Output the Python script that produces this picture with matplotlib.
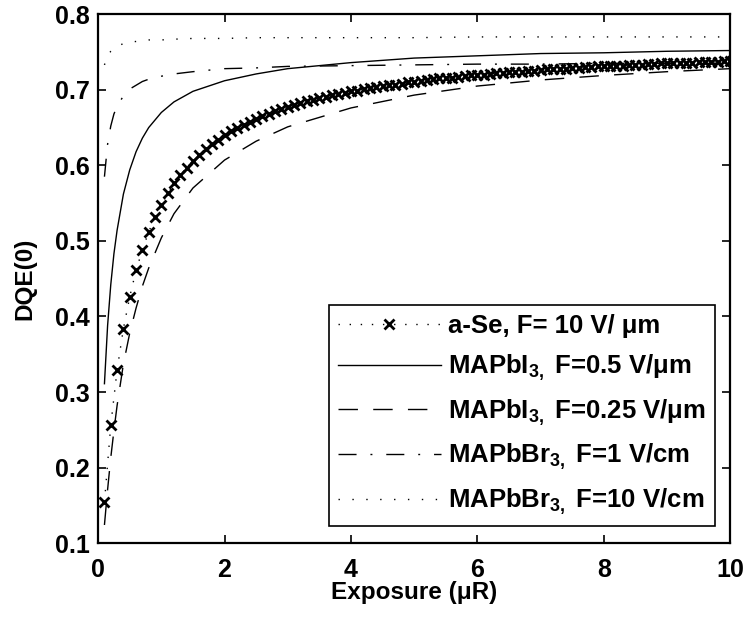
import numpy as np
import matplotlib
matplotlib.use("Agg")
import matplotlib.pyplot as plt

plt.rcParams["font.family"] = ["Liberation Sans", "DejaVu Sans"]
plt.rcParams["font.weight"] = "bold"
plt.rcParams["mathtext.fontset"] = "custom"
plt.rcParams["mathtext.rm"] = "Liberation Sans:bold"
plt.rcParams["mathtext.it"] = "Liberation Sans:bold"
plt.rcParams["mathtext.bf"] = "Liberation Sans:bold"

# a-Se curve, sampled every 0.1 uR (one marker per sample)
exposure_ase = np.linspace(0.1, 10.0, 100)
dqe_ase = [
    0.154, 0.256, 0.329, 0.384, 0.426, 0.461, 0.488, 0.512, 0.531, 0.548,
    0.563, 0.576, 0.587, 0.597, 0.606, 0.614, 0.621, 0.628, 0.634, 0.640,
    0.645, 0.649, 0.654, 0.658, 0.662, 0.665, 0.668, 0.672, 0.674, 0.677,
    0.680, 0.682, 0.685, 0.687, 0.689, 0.691, 0.693, 0.694, 0.696, 0.698,
    0.699, 0.701, 0.702, 0.704, 0.705, 0.706, 0.707, 0.708, 0.710, 0.711,
    0.712, 0.713, 0.714, 0.715, 0.715, 0.716, 0.717, 0.718, 0.719, 0.720,
    0.720, 0.721, 0.722, 0.722, 0.723, 0.724, 0.724, 0.725, 0.725, 0.726,
    0.727, 0.727, 0.728, 0.728, 0.729, 0.729, 0.730, 0.730, 0.731, 0.731,
    0.731, 0.732, 0.732, 0.733, 0.733, 0.733, 0.734, 0.734, 0.735, 0.735,
    0.735, 0.736, 0.736, 0.736, 0.737, 0.737, 0.737, 0.737, 0.738, 0.738,
]

exposure = [0.1, 0.15, 0.2, 0.25, 0.3, 0.4, 0.5, 0.6, 0.7, 0.8, 1.0, 1.2,
            1.5, 2.0, 2.5, 3.0, 4.0, 5.0, 6.0, 7.0, 8.0, 9.0, 10.0]
dqe_mapbi3_05 = [0.311, 0.388, 0.442, 0.483, 0.514, 0.562, 0.594, 0.618, 0.636,
                 0.650, 0.670, 0.684, 0.698, 0.712, 0.721, 0.728, 0.736, 0.742,
                 0.745, 0.748, 0.749, 0.751, 0.752]
dqe_mapbi3_025 = [0.124, 0.171, 0.213, 0.249, 0.282, 0.337, 0.378, 0.411, 0.440,
                  0.464, 0.504, 0.536, 0.570, 0.607, 0.632, 0.651, 0.676, 0.693,
                  0.705, 0.713, 0.719, 0.724, 0.728]
dqe_mapbbr3_1 = [0.585, 0.628, 0.652, 0.668, 0.678, 0.692, 0.701, 0.706, 0.711,
                 0.714, 0.718, 0.721, 0.724, 0.728, 0.729, 0.731, 0.732, 0.733,
                 0.734, 0.734, 0.735, 0.735, 0.735]
dqe_mapbbr3_10 = [0.733, 0.745, 0.751, 0.755, 0.758, 0.761, 0.763, 0.764, 0.765,
                  0.766, 0.766, 0.767, 0.768, 0.768, 0.769, 0.769, 0.769, 0.769,
                  0.770, 0.770, 0.770, 0.770, 0.770]

labels = [
    "a-Se, F= 10 V/ \u03bcm",
    "MAPbI$_{3,}$ F=0.5 V/\u03bcm",
    "MAPbI$_{3,}$ F=0.25 V/\u03bcm",
    "MAPbBr$_{3,}$ F=1 V/cm",
    "MAPbBr$_{3,}$ F=10 V/cm",
]

fig = plt.figure(figsize=(7.49, 6.2), dpi=100)
ax = fig.add_axes([0.131, 0.124, 0.844, 0.853])

lw = 1.0
ax.plot(exposure_ase, dqe_ase, color="black", lw=lw, linestyle=(0, (1, 7)),
        marker="x", markersize=7, markeredgewidth=2.0, label=labels[0])
ax.plot(exposure, dqe_mapbi3_05, color="black", lw=lw, linestyle="-", label=labels[1])
ax.plot(exposure, dqe_mapbi3_025, color="black", lw=lw, linestyle=(0, (14, 11)),
        label=labels[2])
ax.plot(exposure, dqe_mapbbr3_1, color="black", lw=lw, linestyle=(0, (13, 10, 1.4, 10)),
        label=labels[3])
ax.plot(exposure, dqe_mapbbr3_10, color="black", lw=lw, linestyle=(0, (1, 9)),
        label=labels[4])

ax.set_xlim(0, 10)
ax.set_ylim(0.1, 0.8)
ax.set_xticks([0, 2, 4, 6, 8, 10])
ax.set_yticks([0.1, 0.2, 0.3, 0.4, 0.5, 0.6, 0.7, 0.8])
ax.set_yticklabels(["0.1", "0.2", "0.3", "0.4", "0.5", "0.6", "0.7", "0.8"])
ax.tick_params(direction="in", length=6, width=1.2, top=True, right=True,
               labelsize=18)
ax.tick_params(axis="x", pad=11)
ax.tick_params(axis="y", pad=6)
for lab in ax.get_xticklabels() + ax.get_yticklabels():
    lab.set_fontweight("bold")
for s in ax.spines.values():
    s.set_linewidth(1.6)

ax.set_xlabel("Exposure (\u03bcR)", fontsize=17.5, fontweight="bold", labelpad=-1)
ax.set_ylabel("DQE(0)", fontsize=17.5, fontweight="bold", labelpad=13)

leg = ax.legend(loc="lower right", bbox_to_anchor=(0.976, 0.032), borderaxespad=0,
                handlelength=4.0, handletextpad=0.3, labelspacing=0.56,
                borderpad=0.35, fancybox=False, framealpha=1, edgecolor="black",
                prop={"weight": "bold", "size": 18.5})
leg.get_frame().set_linewidth(1.2)

fig.savefig("out.png", dpi=100)
